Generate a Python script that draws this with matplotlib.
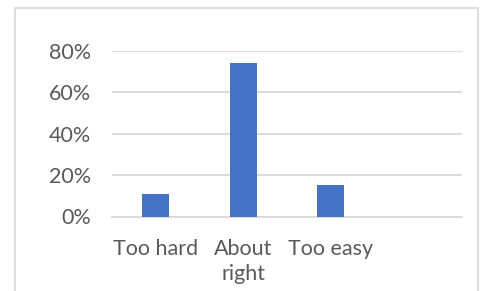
import numpy as np
import matplotlib.pyplot as plt
from matplotlib.patches import Rectangle
from matplotlib.ticker import PercentFormatter

# Survey answers (share of respondents)
categories = ["Too hard", "About\nright", "Too easy", ""]
shares = [0.11, 0.74, 0.15, np.nan]
yticks = [0.0, 0.2, 0.4, 0.6, 0.8]

plt.rcParams["font.family"] = ["Lato", "DejaVu Sans"]
text_color = "#595959"
grid_color = "#D9D9D9"

fig = plt.figure(figsize=(4.82, 2.91), dpi=100)
ax = fig.add_axes([111.5 / 482, 74.5 / 291, 351 / 482, 165.5 / 291])

x = np.arange(len(categories))
ax.bar(x, shares, width=0.31, color="#4472C4", zorder=3)

ax.set_xlim(-0.5, len(categories) - 0.5)
ax.set_ylim(0, 0.8)
ax.set_yticks(yticks)
ax.yaxis.set_major_formatter(PercentFormatter(1.0, decimals=0))
ax.set_xticks(x)
ax.set_xticklabels(categories, linespacing=1.3)
ax.yaxis.grid(True, color=grid_color, linewidth=1.3, zorder=0)
ax.tick_params(axis="both", length=0, labelsize=15.5, labelcolor=text_color)
ax.tick_params(axis="y", pad=15)
ax.tick_params(axis="x", pad=16)
for s in ["top", "right", "left"]:
    ax.spines[s].set_visible(False)
ax.spines["bottom"].set_color(grid_color)
ax.spines["bottom"].set_linewidth(1.3)

# chart area border
fig.patches.append(Rectangle((15 / 482, -0.05), 463 / 482, (291 - 8) / 291 + 0.05,
                             transform=fig.transFigure, fill=False,
                             edgecolor=grid_color, linewidth=1.3))

fig.savefig("out.png", dpi=100)
